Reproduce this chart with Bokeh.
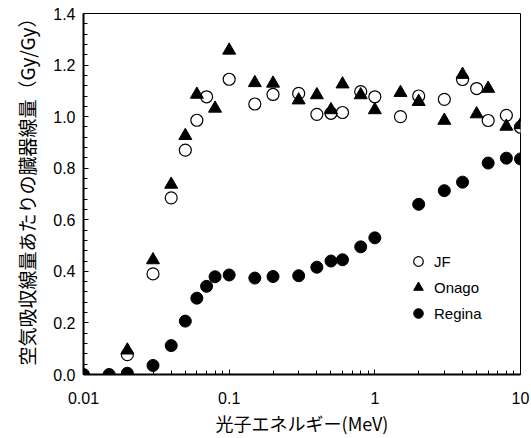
from bokeh.plotting import figure
from bokeh.models import (Range1d, LogTicker, FixedTicker, CustomJSTickFormatter,
                          NumeralTickFormatter, Legend, LegendItem, Title)
from bokeh.embed import file_html
from bokeh.resources import INLINE

# --- data ---
jf_energy = [0.02, 0.03, 0.04, 0.05, 0.06, 0.07, 0.1, 0.15, 0.2, 0.3, 0.4, 0.5, 0.6,
             0.8, 1.0, 1.5, 2.0, 3.0, 4.0, 5.0, 6.0, 8.0, 10.0]
jf_value = [0.077, 0.39, 0.685, 0.870, 0.986, 1.077, 1.145, 1.049, 1.086, 1.090, 1.009,
            1.013, 1.016, 1.097, 1.077, 1.000, 1.080, 1.067, 1.144, 1.109, 0.985, 1.005, 0.959]

onago_energy = [0.02, 0.03, 0.04, 0.05, 0.06, 0.08, 0.1, 0.15, 0.2, 0.3, 0.4, 0.5, 0.6,
                0.8, 1.0, 1.5, 2.0, 3.0, 4.0, 5.0, 6.0, 8.0, 10.0]
onago_value = [0.094, 0.444, 0.737, 0.926, 1.086, 1.032, 1.257, 1.131, 1.129, 1.064, 1.084,
               1.026, 1.126, 1.084, 1.026, 1.093, 1.058, 0.985, 1.163, 1.010, 1.109, 0.962, 0.968]

regina_energy = [0.01, 0.015, 0.02, 0.03, 0.04, 0.05, 0.06, 0.07, 0.08, 0.1, 0.15, 0.2,
                 0.3, 0.4, 0.5, 0.6, 0.8, 1.0, 2.0, 3.0, 4.0, 6.0, 8.0, 10.0]
regina_value = [0.0, 0.0, 0.005, 0.035, 0.112, 0.207, 0.296, 0.342, 0.379, 0.386, 0.374, 0.380,
                0.383, 0.416, 0.440, 0.445, 0.495, 0.530, 0.660, 0.713, 0.746, 0.820, 0.839, 0.836]

y_ticks = [0.0, 0.2, 0.4, 0.6, 0.8, 1.0, 1.2, 1.4]
y_minor_ticks = [0.04, 0.08, 0.12, 0.16, 0.24, 0.28, 0.32, 0.36, 0.44, 0.48, 0.52, 0.56,
                 0.64, 0.68, 0.72, 0.76, 0.84, 0.88, 0.92, 0.96, 1.04, 1.08, 1.12, 1.16,
                 1.24, 1.28, 1.32, 1.36]

x_label = "光子エネルギー(MeV)"
y_label = "空気吸収線量あたりの臓器線量（Gy/Gy）"

p = figure(width=531, height=438, x_axis_type="log",
           x_range=Range1d(0.01, 10), y_range=Range1d(0, 1.4),
           output_backend="svg", toolbar_location=None,
           min_border_left=82, min_border_right=11, min_border_top=13, min_border_bottom=62)

p.xgrid.visible = False
p.ygrid.visible = False
p.outline_line_color = "black"
p.outline_line_width = 1
p.background_fill_color = "white"
p.border_fill_color = "white"

r_jf = p.scatter(jf_energy, jf_value, marker="circle", size=12, fill_color="white",
                 line_color="black", line_width=1.2)
r_on = p.scatter(onago_energy, onago_value, marker="triangle", size=13, fill_color="black",
                 line_color="black")
r_re = p.scatter(regina_energy, regina_value, marker="circle", size=12, fill_color="black",
                 line_color="black")

# axes
xa = p.xaxis[0]
xa.ticker = LogTicker(num_minor_ticks=10)
xa.formatter = CustomJSTickFormatter(code="return String(Number(tick.toPrecision(6)));")
ya = p.yaxis[0]
ya.ticker = FixedTicker(ticks=y_ticks, minor_ticks=y_minor_ticks)
ya.formatter = NumeralTickFormatter(format="0.0")

for ax in (xa, ya):
    ax.axis_line_width = 2
    ax.axis_line_color = "black"
    ax.major_tick_in = 5
    ax.major_tick_out = 0
    ax.minor_tick_in = 4
    ax.minor_tick_out = 0
    ax.major_tick_line_color = "black"
    ax.minor_tick_line_color = "black"
    ax.major_label_text_font = "Liberation Sans"
    ax.major_label_text_font_size = "16px"
    ax.major_label_text_color = "black"
    ax.axis_label_text_font = "Noto Sans CJK JP"
    ax.axis_label_text_font_style = "normal"
    ax.axis_label_text_color = "black"

xa.axis_label = x_label
xa.axis_label_text_font_size = "18px"
xa.major_label_standoff = 17
xa.axis_label_standoff = 3

ya.major_label_standoff = 8

# y-axis title: a side title anchored at its start (bottom of the frame)
ytitle = Title(text=y_label, align="left", offset=9, standoff=21,
               text_font="Noto Sans CJK JP", text_font_size="19px",
               text_font_style="normal", text_color="black")
p.add_layout(ytitle, "left")

legend = Legend(items=[LegendItem(label="JF", renderers=[r_jf]),
                       LegendItem(label="Onago", renderers=[r_on]),
                       LegendItem(label="Regina", renderers=[r_re])],
                location=(323, 49), orientation="vertical",
                border_line_color=None, background_fill_alpha=0,
                padding=0, margin=0, spacing=2,
                glyph_width=24, glyph_height=24, label_height=24,
                label_standoff=4, label_text_font="Liberation Sans",
                label_text_font_size="15px", label_text_color="black")
p.add_layout(legend)

open("out.html", "w").write(file_html(p, INLINE))
